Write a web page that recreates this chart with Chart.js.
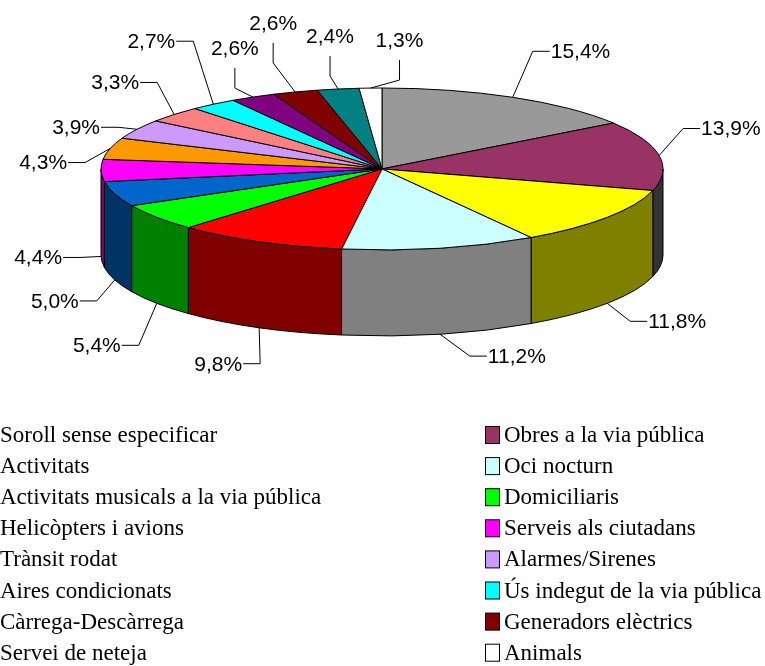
<!DOCTYPE html>
<html>
<head>
<meta charset="utf-8">
<script src="https://cdn.jsdelivr.net/npm/chart.js@4.4.0/dist/chart.umd.min.js"></script>
<style>
  html, body { margin: 0; padding: 0; background: #fff; overflow: hidden; }
  canvas { display: block; }
</style>
</head>
<body>
<canvas id="soroll" width="765" height="666"></canvas>
<script>
// categories in legend order (left, right, left, right ...)
const categories = [
  'Soroll sense especificar', 'Obres a la via pública',
  'Activitats', 'Oci nocturn',
  'Activitats musicals a la via pública', 'Domiciliaris',
  'Helicòpters i avions', 'Serveis als ciutadans',
  'Trànsit rodat', 'Alarmes/Sirenes',
  'Aires condicionats', 'Ús indegut de la via pública',
  'Càrrega-Descàrrega', 'Generadors elèctrics',
  'Servei de neteja', 'Animals'
];
const percentages = [15.4, 13.9, 11.8, 11.2, 9.8, 5.4, 5.0, 4.4, 4.3, 3.9, 3.3, 2.7, 2.6, 2.6, 2.4, 1.3];

const topColors = [
  '#999999', '#993366', '#ffff00', '#ccffff', '#ff0000', '#00ff00', '#0066cc', '#ff00ff',
  '#ff9900', '#cc99ff', '#ff8080', '#00ffff', '#800080', '#800000', '#008080', '#ffffff'
];
const sideColors = [
  '#4d4d4d', '#333333', '#808000', '#808080', '#800000', '#008000', '#003366', '#800080',
  '#804c00', '#664c80', '#804040', '#008080', '#400040', '#400000', '#004040', '#808080'
];
// leader line elbow, as offset from the rim point, and where the text goes
const labelElbows = [
  [20, -46, 'r'], [24, -27, 'r'], [23, 18, 'r'], [30, 22, 'r'],
  [1, 36, 'l'], [-18, 42, 'l'], [-18, 21, 'l'], [-21, 1, 'l'],
  [-25, 14, 'l'], [-19, -2, 'l'], [-17, -32, 'l'], [-20, -63, 'l'],
  [-18, -9, 'u'], [-22, -29, 'u'], [-8, -13, 'u'], [29, -8, 'u']
];

const TILT = 0.288;   // vertical squash of the pie
const DEPTH = 86;     // thickness of the 3d side

function pieGeometry(chart) {
  const arcs = chart.getDatasetMeta(0).data;
  const r = arcs[0].outerRadius;
  const ry = r * TILT;
  return { arcs, cx: arcs[0].x, cy: arcs[0].y - r + ry, rx: r, ry };
}

const pie3d = {
  id: 'pie3d',
  beforeDatasetsDraw(chart) {
    const ctx = chart.ctx;
    const { arcs, cx, cy, rx, ry } = pieGeometry(chart);
    ctx.save();
    ctx.lineWidth = 1;
    ctx.strokeStyle = '#000';
    ctx.lineJoin = 'round';
    // side walls, only the front half is visible (0..PI)
    arcs.forEach((arc, i) => {
      const s = Math.max(arc.startAngle, 0);
      const e = Math.min(arc.endAngle, Math.PI);
      if (e <= s) return;
      ctx.beginPath();
      ctx.ellipse(cx, cy, rx, ry, 0, s, e);
      ctx.lineTo(cx + rx * Math.cos(e), cy + ry * Math.sin(e) + DEPTH);
      ctx.ellipse(cx, cy + DEPTH, rx, ry, 0, e, s, true);
      ctx.closePath();
      ctx.fillStyle = sideColors[i];
      ctx.fill();
      ctx.stroke();
    });
    // top faces
    arcs.forEach((arc, i) => {
      ctx.beginPath();
      ctx.moveTo(cx, cy);
      ctx.ellipse(cx, cy, rx, ry, 0, arc.startAngle, arc.endAngle);
      ctx.closePath();
      ctx.fillStyle = topColors[i];
      ctx.fill();
      ctx.stroke();
    });
    ctx.restore();
    return false;
  },
  afterDraw(chart) {
    const ctx = chart.ctx;
    const { arcs, cx, cy, rx, ry } = pieGeometry(chart);
    ctx.save();
    ctx.lineWidth = 1;
    ctx.strokeStyle = '#000';
    ctx.fillStyle = '#000';
    ctx.font = '21px "Liberation Sans", Arial, sans-serif';

    // percentage labels with leader lines
    arcs.forEach((arc, i) => {
      const mid = (arc.startAngle + arc.endAngle) / 2;
      const ax = cx + rx * Math.cos(mid);
      let ay = cy + ry * Math.sin(mid);
      if (Math.sin(mid) > 0) ay += DEPTH;
      const [dx, dy, side] = labelElbows[i];
      const ex = ax + dx, ey = ay + dy;
      const txt = percentages[i].toFixed(1).replace('.', ',') + '%';
      ctx.beginPath();
      ctx.moveTo(ax, ay);
      ctx.lineTo(ex, ey);
      if (side === 'r') {
        ctx.lineTo(ex + 17, ey);
        ctx.stroke();
        ctx.textAlign = 'left';
        ctx.textBaseline = 'middle';
        ctx.fillText(txt, ex + 18, ey + 1);
      } else if (side === 'l') {
        ctx.lineTo(ex - 17, ey);
        ctx.stroke();
        ctx.textAlign = 'right';
        ctx.textBaseline = 'middle';
        ctx.fillText(txt, ex - 18, ey + 1);
      } else {
        ctx.lineTo(ex, ey - 20);
        ctx.stroke();
        ctx.textAlign = 'center';
        ctx.textBaseline = 'alphabetic';
        ctx.fillText(txt, ex, ey - 33);
      }
    });

    // legend, two columns (left boxes fall off the canvas like in the original)
    ctx.font = '23px "Liberation Serif", "Times New Roman", serif';
    ctx.textAlign = 'left';
    ctx.textBaseline = 'alphabetic';
    categories.forEach((name, i) => {
      const col = i % 2, row = Math.floor(i / 2);
      const bx = col === 0 ? -19 : 485;
      const yc = 435 + row * 31.1;
      ctx.fillStyle = topColors[i];
      ctx.fillRect(bx + 0.5, yc - 8.5, 14, 17);
      ctx.strokeRect(bx + 0.5, yc - 8.5, 14, 17);
      ctx.fillStyle = '#000';
      ctx.fillText(name, bx + 19, yc + 7);
    });
    ctx.restore();
  }
};

new Chart(document.getElementById('soroll').getContext('2d'), {
  type: 'pie',
  data: {
    labels: categories,
    datasets: [{
      data: percentages,
      backgroundColor: topColors,
      borderWidth: 0
    }]
  },
  options: {
    responsive: false,
    maintainAspectRatio: false,
    devicePixelRatio: 1,
    animation: false,
    layout: { padding: { top: 88, left: 101, right: 102, bottom: 16 } },
    plugins: {
      legend: { display: false },
      tooltip: { enabled: false }
    }
  },
  plugins: [pie3d]
});
</script>
</body>
</html>
